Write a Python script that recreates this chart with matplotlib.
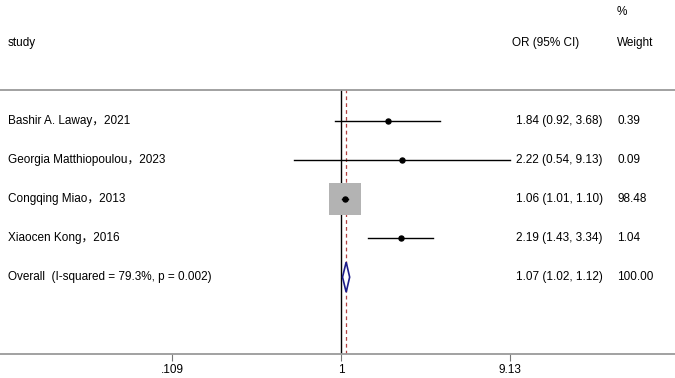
import numpy as np
import matplotlib
matplotlib.use("Agg")
import matplotlib.pyplot as plt
from matplotlib.patches import Polygon

plt.rcParams['font.family'] = ['Liberation Sans', 'Noto Sans CJK SC', 'DejaVu Sans']

# study data
studies = ['Bashir A. Laway，2021', 'Georgia Matthiopoulou，2023',
           'Congqing Miao，2013', 'Xiaocen Kong，2016']
odds = [1.84, 2.22, 1.06, 2.19]
lower = [0.92, 0.54, 1.01, 1.43]
upper = [3.68, 9.13, 1.10, 3.34]
weights = [0.39, 0.09, 98.48, 1.04]

overall_label = 'Overall  (I-squared = 79.3%, p = 0.002)'
overall_or = 1.07
overall_lo = 1.02
overall_hi = 1.12
overall_weight = 100.00

tick_vals = [0.109, 1, 9.13]
tick_labels = ['.109', '1', '9.13']

fs = 8.5
fig = plt.figure(figsize=(6.75, 3.78), dpi=100)
ax = fig.add_axes([0, 1 - 354 / 378, 1, (354 - 90) / 378])
ax.set_xscale('log')
ax.set_xlim(0.01146, 79.6)
ax.set_ylim(5.97, -0.795)

for s in ['left', 'right']:
    ax.spines[s].set_visible(False)
for s in ['top', 'bottom']:
    ax.spines[s].set_color('#9a9a9a')
    ax.spines[s].set_linewidth(1.3)

ax.set_yticks([])
ax.set_xticks(tick_vals)
ax.set_xticklabels(tick_labels, fontsize=fs)
ax.minorticks_off()
ax.tick_params(axis='x', length=5, color='#777777', pad=2)

# reference lines
ax.axvline(1, color='black', lw=1)
ax.axvline(overall_or, color='#b04040', lw=0.9, ls=(0, (3, 2.5)))

rows = np.arange(len(studies))
max_side = 23.5  # points, for the largest weight
for i in rows:
    ax.plot([lower[i], upper[i]], [i, i], color='black', lw=1, zorder=3)
    side = max_side * np.sqrt(weights[i] / max(weights))
    ax.scatter(odds[i], i, marker='s', s=side ** 2, color='#b3b3b3', lw=0, zorder=2)
    ax.plot(odds[i], i, 'o', color='black', ms=3.6, zorder=4)

yo = len(studies)
h = 0.385
diamond = Polygon([(overall_lo, yo), (overall_or, yo - h), (overall_hi, yo), (overall_or, yo + h)],
                  closed=True, facecolor='white', edgecolor='#1c1c8a', lw=1.2, zorder=4)
ax.add_patch(diamond)

# text columns
trans = ax.get_yaxis_transform()
labels = studies + [overall_label]
ors = [f'{o:.2f} ({l:.2f}, {u:.2f})' for o, l, u in zip(odds, lower, upper)]
ors.append(f'{overall_or:.2f} ({overall_lo:.2f}, {overall_hi:.2f})')
wts = [f'{w:.2f}' for w in weights] + [f'{overall_weight:.2f}']
for i, (lab, o, w) in enumerate(zip(labels, ors, wts)):
    ax.text(8 / 675, i, lab, transform=trans, fontsize=fs, va='center', ha='left')
    ax.text(516 / 675, i, o, transform=trans, fontsize=fs, va='center', ha='left')
    ax.text(617 / 675, i, w, transform=trans, fontsize=fs, va='center', ha='left')

# headers
fig.text(8 / 675, 1 - 43 / 378, 'study', fontsize=fs, va='center', ha='left')
fig.text(512 / 675, 1 - 43 / 378, 'OR (95% CI)', fontsize=fs, va='center', ha='left')
fig.text(617 / 675, 1 - 43 / 378, 'Weight', fontsize=fs, va='center', ha='left')
fig.text(617 / 675, 1 - 12 / 378, '%', fontsize=fs, va='center', ha='left')

fig.savefig('out.png', dpi=100)
